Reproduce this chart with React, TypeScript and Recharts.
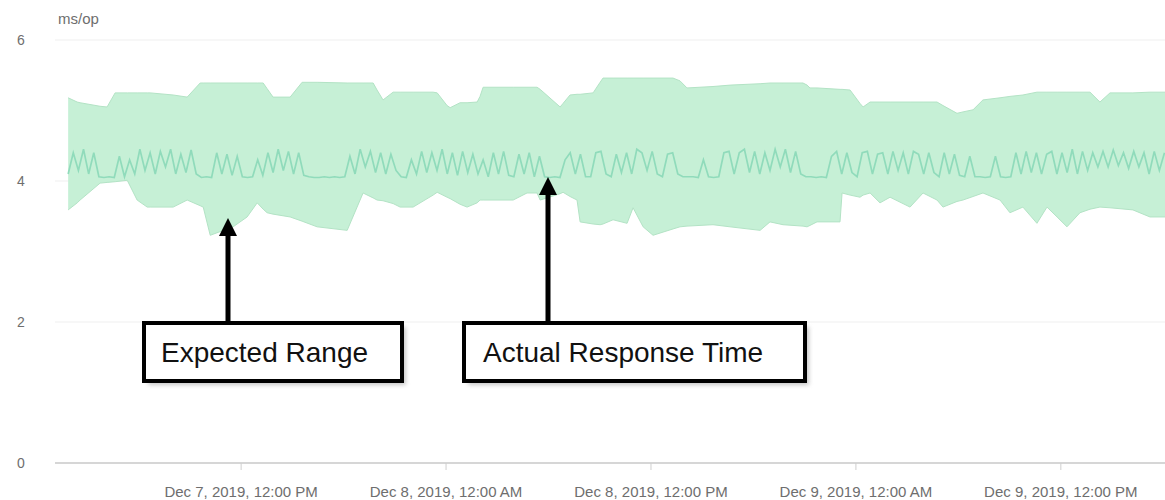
import React from "react";
import { ComposedChart, Area, Line, XAxis, YAxis, CartesianGrid } from "recharts";

// Hours since Dec 7, 2019 00:00
const bandTime = [1.87, 2.4, 2.57, 3.74, 4.15, 4.62, 5.33, 5.91, 6.5, 6.67, 8.02, 8.84, 9.6, 9.78, 10.19, 11.53, 12.35, 12.94, 13.29, 13.52, 13.87, 14.87, 15.57, 16.45, 18.21, 19.14, 19.73, 19.96, 20.31, 20.9, 21.31, 22.07, 23.24, 23.48, 24.06, 24.24, 24.82, 25.23, 25.82, 25.99, 26.17, 27.93, 28.74, 29.33, 29.51, 30.68, 30.85, 31.26, 31.67, 31.85, 32.61, 33.02, 33.19, 33.78, 34.6, 34.95, 35.54, 36.12, 37.29, 37.7, 38.11, 39.63, 40.63, 42.39, 42.97, 43.73, 44.9, 45.14, 45.31, 45.72, 47.07, 47.19, 47.66, 48.24, 48.42, 48.83, 49.41, 50.0, 51.17, 51.93, 52.75, 53.1, 53.92, 54.27, 54.86, 55.44, 56.44, 57.02, 57.78, 58.6, 59.19, 59.78, 60.36, 61.12, 61.71, 62.29, 62.88, 64.22, 65.22, 66.1];
const bandHigh = [5.18, 5.12, 5.11, 5.06, 5.05, 5.25, 5.25, 5.25, 5.25, 5.25, 5.22, 5.19, 5.39, 5.39, 5.39, 5.39, 5.39, 5.39, 5.39, 5.31, 5.19, 5.19, 5.4, 5.4, 5.39, 5.39, 5.39, 5.29, 5.15, 5.26, 5.26, 5.26, 5.26, 5.25, 5.07, 5.04, 5.11, 5.11, 5.12, 5.2, 5.33, 5.33, 5.33, 5.33, 5.3, 5.05, 5.1, 5.22, 5.23, 5.23, 5.25, 5.4, 5.46, 5.46, 5.46, 5.46, 5.46, 5.46, 5.46, 5.42, 5.32, 5.34, 5.36, 5.38, 5.39, 5.39, 5.39, 5.36, 5.32, 5.32, 5.3, 5.3, 5.29, 5.1, 5.05, 5.12, 5.12, 5.12, 5.12, 5.12, 5.12, 5.07, 4.96, 4.98, 5.01, 5.15, 5.18, 5.2, 5.22, 5.26, 5.26, 5.26, 5.26, 5.26, 5.26, 5.12, 5.25, 5.25, 5.26, 5.26];
const bandLow = [3.59, 3.69, 3.73, 3.97, 3.98, 3.99, 4.01, 3.73, 3.63, 3.63, 3.63, 3.73, 3.65, 3.63, 3.23, 3.35, 3.49, 3.69, 3.6, 3.55, 3.53, 3.49, 3.43, 3.35, 3.3, 3.83, 3.76, 3.73, 3.72, 3.68, 3.63, 3.63, 3.8, 3.84, 3.77, 3.75, 3.67, 3.63, 3.69, 3.73, 3.73, 3.73, 3.83, 3.83, 3.73, 3.82, 3.84, 3.78, 3.73, 3.42, 3.39, 3.38, 3.39, 3.45, 3.4, 3.62, 3.35, 3.23, 3.32, 3.35, 3.36, 3.38, 3.35, 3.3, 3.42, 3.38, 3.36, 3.35, 3.37, 3.42, 3.42, 3.83, 3.8, 3.77, 3.8, 3.83, 3.69, 3.77, 3.63, 3.83, 3.73, 3.63, 3.71, 3.73, 3.78, 3.83, 3.73, 3.55, 3.63, 3.4, 3.63, 3.49, 3.35, 3.55, 3.6, 3.63, 3.62, 3.59, 3.49, 3.49];

// Actual response time, sampled every 0.3 h from 1.87 h
const actualStart = 1.87;
const actualStep = 0.3;
const actual = [
  4.1, 4.4, 4.15, 4.45, 4.1, 4.4,
  4.06, 4.05, 4.06, 4.05,
  4.35,
  4.06,
  4.3, 4.1, 4.45, 4.15, 4.4, 4.1, 4.42, 4.2, 4.45, 4.1, 4.38, 4.12, 4.44, 4.1,
  4.05, 4.06, 4.05,
  4.4, 4.1, 4.38, 4.08, 4.35,
  4.06, 4.05, 4.06,
  4.3, 4.08,
  4.4, 4.12, 4.45, 4.15, 4.42, 4.1, 4.4, 4.08,
  4.06, 4.05, 4.05, 4.06, 4.05, 4.06, 4.05, 4.06,
  4.35, 4.1, 4.45, 4.2, 4.42, 4.12, 4.4, 4.1, 4.38, 4.15,
  4.06, 4.05, 4.3,
  4.1, 4.42, 4.12, 4.4, 4.15, 4.45, 4.1, 4.4, 4.08, 4.42, 4.12, 4.38, 4.1,
  4.3, 4.06, 4.4, 4.1, 4.42, 4.08, 4.06, 4.38, 4.1, 4.4, 4.06, 4.35, 4.06,
  4.05, 4.06, 4.05,
  4.3, 4.4, 4.1, 4.38, 4.06, 4.06, 4.4, 4.42, 4.1, 4.06, 4.38, 4.12, 4.4, 4.1, 4.45, 4.4, 4.15, 4.42, 4.1, 4.06, 4.38, 4.4, 4.1, 4.06, 4.06,
  4.06, 4.05, 4.3, 4.06, 4.05, 4.06, 4.4,
  4.42, 4.1, 4.4, 4.45, 4.12, 4.42, 4.1, 4.4, 4.15, 4.45, 4.2, 4.45, 4.12, 4.42, 4.1, 4.06,
  4.06, 4.05, 4.06, 4.05,
  4.35, 4.42, 4.1, 4.4, 4.12, 4.06, 4.4, 4.42, 4.1, 4.38, 4.4, 4.1, 4.42, 4.15, 4.4, 4.1, 4.42, 4.38, 4.1, 4.4, 4.12, 4.06, 4.4, 4.1, 4.38, 4.08, 4.06, 4.35, 4.06,
  4.06, 4.05, 4.06, 4.35, 4.06, 4.05, 4.06,
  4.4, 4.1, 4.42, 4.12, 4.4, 4.1, 4.38, 4.42, 4.1, 4.4, 4.12, 4.45, 4.1, 4.42, 4.15, 4.4, 4.2, 4.42, 4.2, 4.44, 4.22, 4.4, 4.18, 4.42, 4.2, 4.4, 4.1, 4.42, 4.15, 4.4,
];

const xTicks = [12, 24, 36, 48, 60];
const xTickLabels = [
  "Dec 7, 2019, 12:00 PM",
  "Dec 8, 2019, 12:00 AM",
  "Dec 8, 2019, 12:00 PM",
  "Dec 9, 2019, 12:00 AM",
  "Dec 9, 2019, 12:00 PM",
];
const yTicks = [0, 2, 4, 6];
const unitLabel = "ms/op";
const annotations = ["Expected Range", "Actual Response Time"];

const bandData = bandTime.map((t, i) => ({ t, range: [bandLow[i], bandHigh[i]] }));
const actualData = actual.map((v, i) => ({ t: +(actualStart + i * actualStep).toFixed(2), v }));

const FONT = "'Liberation Sans', Arial, sans-serif";

const XTick = (props: any) => {
  const { x, y, payload } = props;
  const idx = xTicks.indexOf(payload.value);
  return (
    <text x={x} y={y + 25} textAnchor="middle" fontSize={15} fill="#6e6e6e" fontFamily={FONT}>
      {idx >= 0 ? xTickLabels[idx] : ""}
    </text>
  );
};

const YTick = (props: any) => {
  const { y, payload } = props;
  return (
    <text x={21} y={y + 5} textAnchor="middle" fontSize={14} fill="#6e6e6e" fontFamily={FONT}>
      {payload.value}
    </text>
  );
};

const Box = ({ x, y, w, h, label, tx }: any) => (
  <g>
    <rect x={x + 4} y={y + 4} width={w} height={h} fill="#9a9a9a" opacity={0.55} filter="url(#blur)" />
    <rect x={x} y={y} width={w} height={h} fill="#ffffff" stroke="#000" strokeWidth={4} />
    <text x={x + tx} y={y + h / 2 + 10} fontSize={28} fill="#111" fontFamily={FONT}>
      {label}
    </text>
  </g>
);

const Arrow = ({ x, tipY, baseY }: any) => (
  <g>
    <line x1={x} y1={tipY + 14} x2={x} y2={baseY} stroke="#000" strokeWidth={5} />
    <polygon points={`${x},${tipY} ${x - 9},${tipY + 18} ${x + 9},${tipY + 18}`} fill="#000" />
  </g>
);

export default function App() {
  return (
    <div style={{ position: "absolute", left: 0, top: 0, width: 1165, height: 500, background: "#fff", fontFamily: FONT }}>
      <ComposedChart width={1165} height={500} margin={{ top: 40, right: 0, bottom: 0, left: 0 }}>
        <CartesianGrid horizontal vertical={false} stroke="#efefef" />
        <XAxis
          type="number"
          dataKey="t"
          domain={[1.1, 66.1]}
          ticks={xTicks}
          height={37}
          axisLine={{ stroke: "#d6d6d6", strokeWidth: 2 }}
          tickLine={{ stroke: "#cfcfcf" }}
          tickSize={7}
          tick={<XTick />}
          allowDataOverflow
        />
        <YAxis
          type="number"
          domain={[0, 6]}
          ticks={yTicks}
          width={55}
          axisLine={false}
          tickLine={false}
          tick={<YTick />}
        />
        <Area
          data={bandData}
          dataKey="range"
          type="linear"
          stroke="#b3e3c5"
          strokeWidth={1}
          fill="#c6f0d6"
          fillOpacity={1}
          isAnimationActive={false}
          dot={false}
          activeDot={false}
        />
        <Line
          data={actualData}
          dataKey="v"
          type="linear"
          stroke="#90dbbb"
          strokeWidth={1.7}
          dot={false}
          activeDot={false}
          isAnimationActive={false}
        />
      </ComposedChart>
      <svg width={1165} height={500} style={{ position: "absolute", left: 0, top: 0, pointerEvents: "none" }}>
        <defs>
          <filter id="blur" x="-10%" y="-10%" width="120%" height="130%">
            <feGaussianBlur stdDeviation="2" />
          </filter>
        </defs>
        <text x={58} y={24} fontSize={15} fill="#6e6e6e" fontFamily={FONT}>
          {unitLabel}
        </text>
        <Arrow x={228} tipY={218} baseY={323} />
        <Arrow x={548} tipY={177} baseY={323} />
        <Box x={144} y={323} w={258} h={58} label={annotations[0]} tx={17} />
        <Box x={464} y={323} w={341} h={58} label={annotations[1]} tx={19} />
      </svg>
    </div>
  );
}
